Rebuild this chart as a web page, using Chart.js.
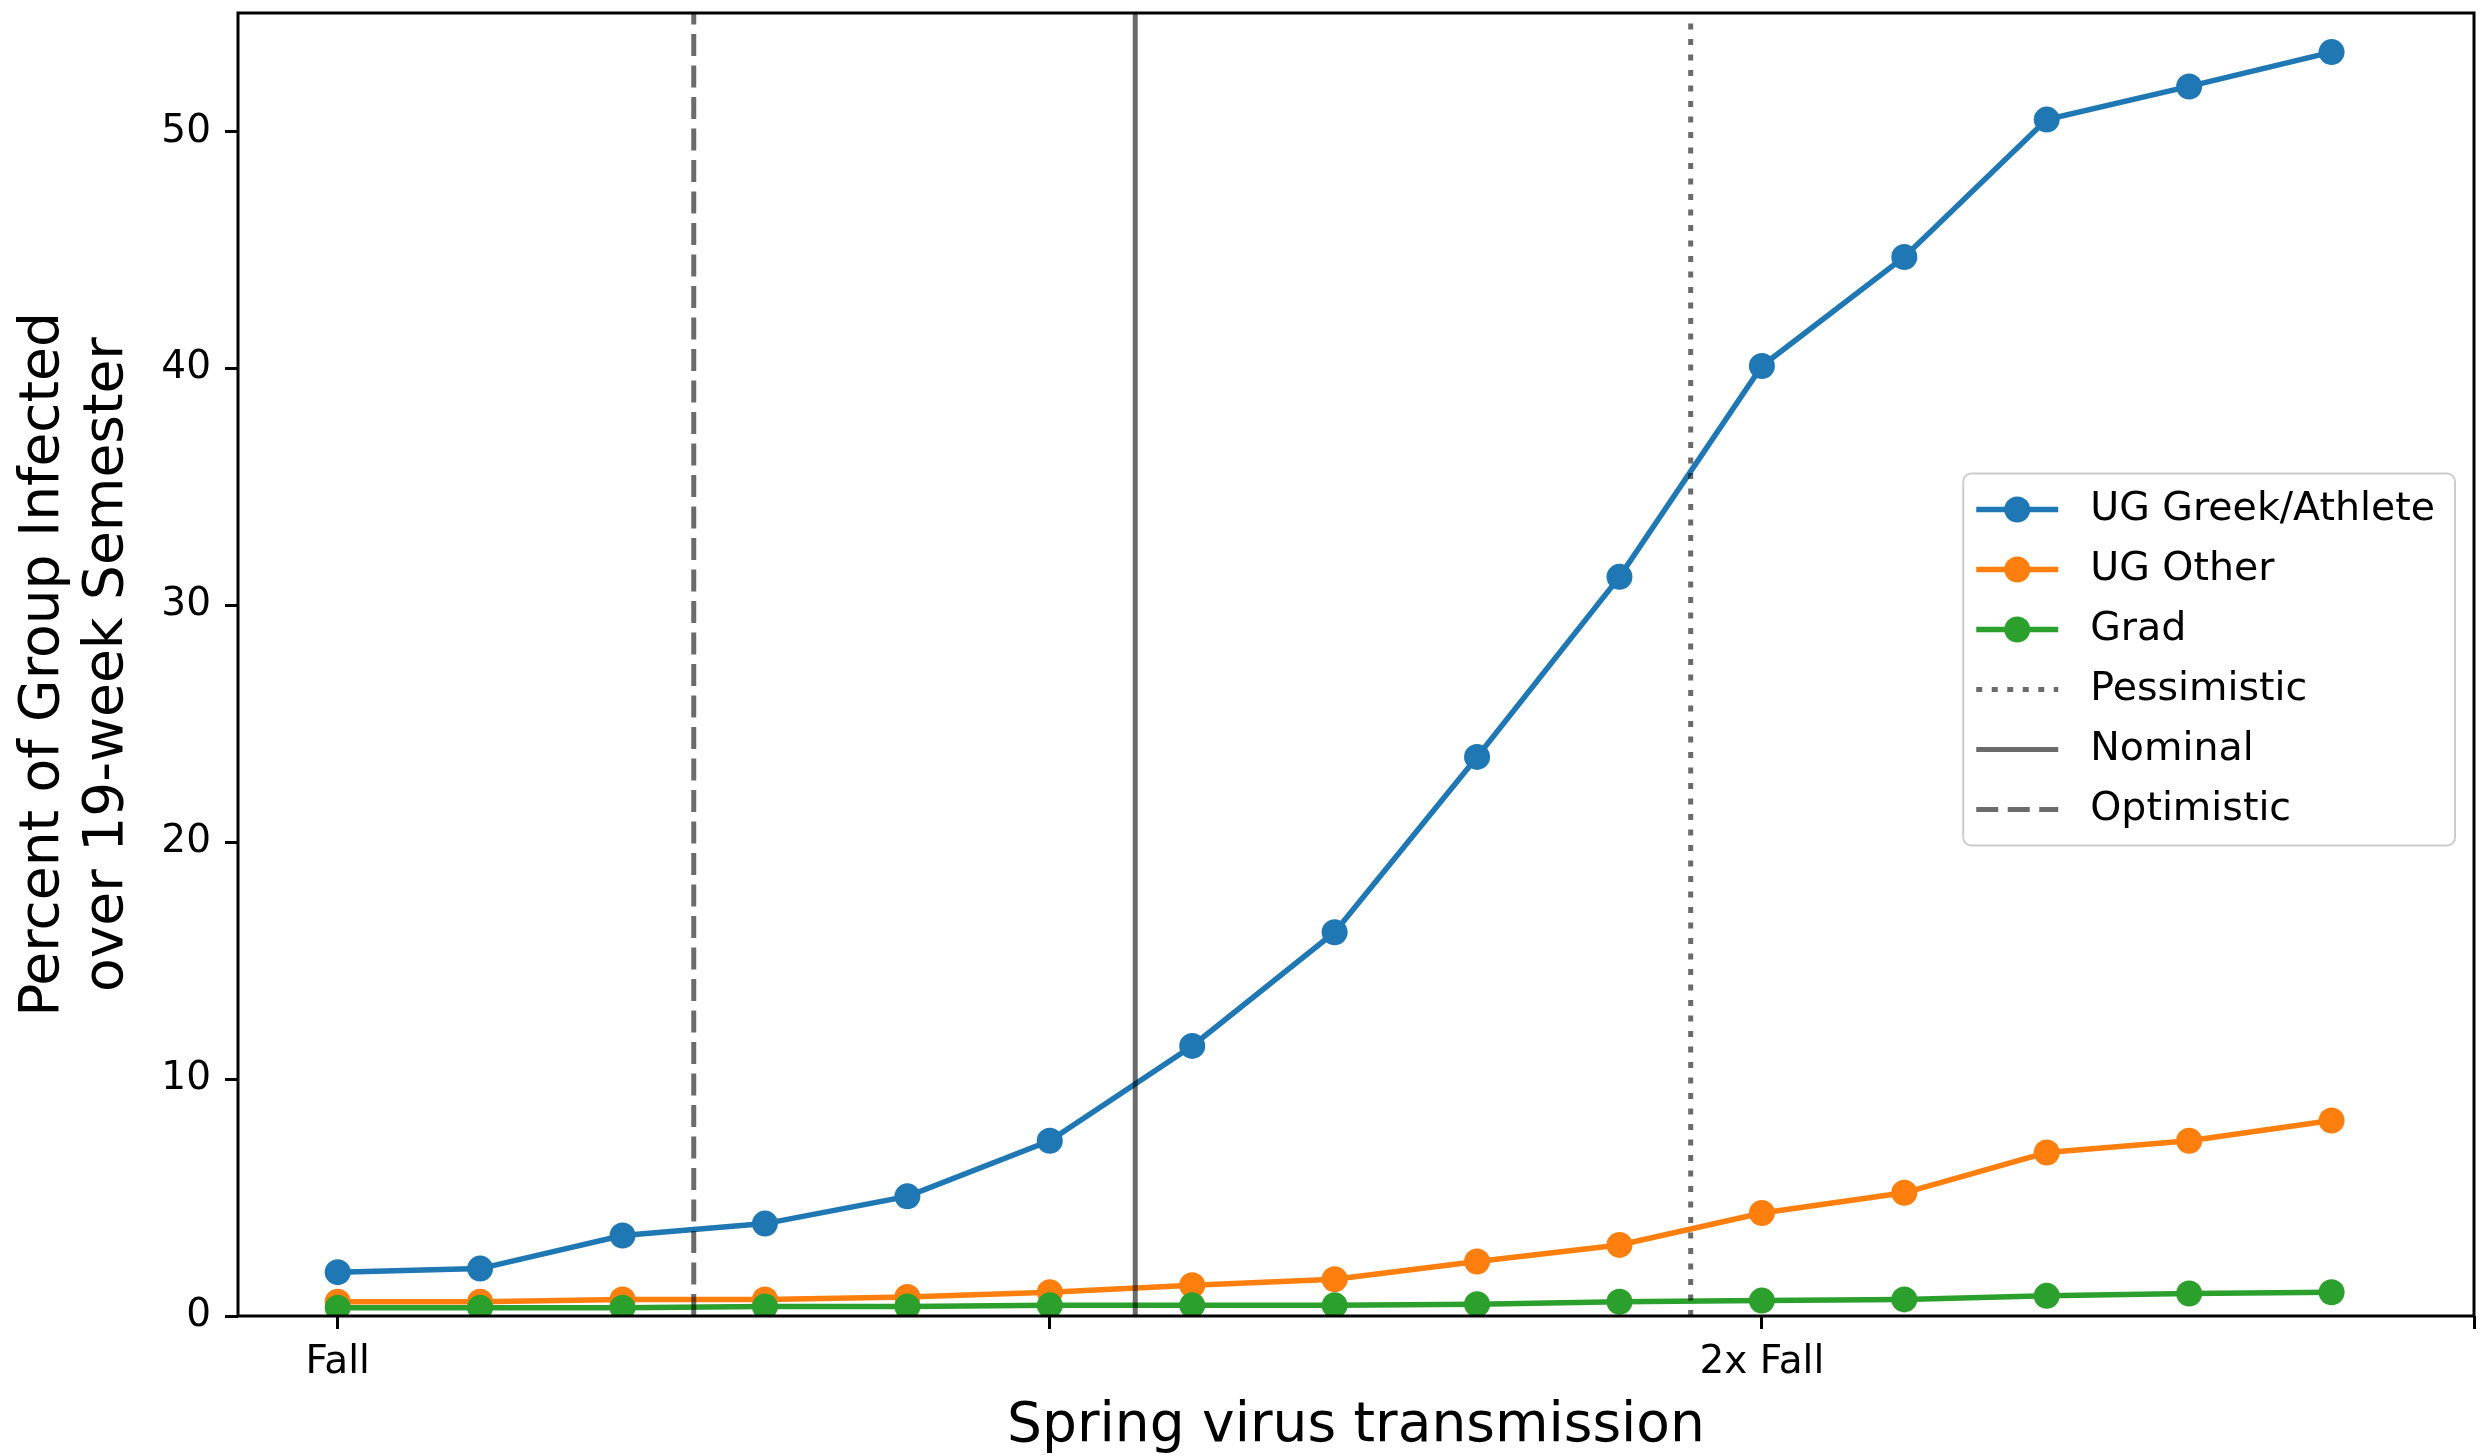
<!DOCTYPE html>
<html>
<head>
<meta charset="utf-8">
<script src="https://cdn.jsdelivr.net/npm/chart.js@4.4.1/dist/chart.umd.min.js"></script>
<style>
  html, body { margin: 0; padding: 0; background: #fff; }
  canvas { display: block; }
</style>
</head>
<body>
<canvas id="infectChart" width="2487" height="1456"></canvas>
<script>
// spring transmission, as a multiple of fall transmission
var transmission = [1.0, 1.1, 1.2, 1.3, 1.4, 1.5, 1.6, 1.7, 1.8, 1.9, 2.0, 2.1, 2.2, 2.3, 2.4]

// percent of each group infected over the semester
var greekAthlete = [1.85, 2.0, 3.4, 3.9, 5.05, 7.4, 11.4, 16.2, 23.6, 31.2, 40.1, 44.7, 50.5, 51.9, 53.35]
var ugOther = [0.6, 0.6, 0.7, 0.7, 0.8, 1.0, 1.3, 1.55, 2.3, 3.0, 4.35, 5.2, 6.9, 7.4, 8.25]
var grad = [0.35, 0.35, 0.35, 0.4, 0.4, 0.45, 0.45, 0.45, 0.5, 0.6, 0.65, 0.7, 0.85, 0.95, 1.0]

// scenario markers (vertical lines)
var scenarioNames = ['Pessimistic', 'Nominal', 'Optimistic']
var scenarioX = [1.95, 1.56, 1.25]

// axes
var xTickValues = [1.0, 1.5, 2.0, 2.5]
var xTickLabels = ['Fall', '', '2x Fall', '']
var yTickValues = [0, 10, 20, 30, 40, 50]
var xMin = 0.93, xMax = 2.5
var yMin = 0, yMax = 55

var FONT = 'DejaVu Sans'

function points(ys) {
    return transmission.map(function (x, i) { return { x: x, y: ys[i] } })
}

function seriesDataset(label, ys, color, order) {
    return {
        label: label,
        data: points(ys),
        borderColor: color,
        backgroundColor: color,
        borderWidth: 5.5,
        pointRadius: 13,
        pointHoverRadius: 13,
        pointBorderWidth: 0,
        pointBackgroundColor: color,
        tension: 0,
        clip: 0,
        order: order
    }
}

var scenarioDash = [[6, 9.5], [], [22, 9.5]]
function scenarioDataset(i) {
    return {
        label: scenarioNames[i],
        data: [{ x: scenarioX[i], y: yMin }, { x: scenarioX[i], y: yMax }],
        borderColor: 'rgba(0,0,0,0.58)',
        borderWidth: 5,
        borderDash: scenarioDash[i],
        borderCapStyle: 'butt',
        pointRadius: 0,
        pointHoverRadius: 0,
        clip: 0,
        order: 0
    }
}

var datasets = [
    seriesDataset('UG Greek/Athlete', greekAthlete, '#1f77b4', 3),
    seriesDataset('UG Other', ugOther, '#ff7f0e', 2),
    seriesDataset('Grad', grad, '#2ca02c', 1),
    scenarioDataset(0),
    scenarioDataset(1),
    scenarioDataset(2)
]

// box round the plot area
var frameBox = {
    id: 'frameBox',
    afterDatasetsDraw: function (chart) {
        var a = chart.chartArea, ctx = chart.ctx
        ctx.save()
        ctx.strokeStyle = '#000'
        ctx.lineWidth = 3
        ctx.strokeRect(a.left, a.top, a.right - a.left, a.bottom - a.top)
        ctx.restore()
    }
}

// matplotlib style legend, center right
var mplLegend = {
    id: 'mplLegend',
    afterDraw: function (chart) {
        var ctx = chart.ctx, a = chart.chartArea
        var sets = chart.data.datasets
        var fs = 39.5, row = 60, handle = 82, gap = 32, padL = 13, padR = 20, padV = 6
        ctx.save()
        ctx.font = fs + 'px "' + FONT + '"'
        var tw = 0
        sets.forEach(function (d) { tw = Math.max(tw, ctx.measureText(d.label).width) })
        var w = padL + handle + gap + tw + padR
        var h = sets.length * row + padV * 2
        var x0 = a.right - 19 - w
        var y0 = (a.top + a.bottom) / 2 - 5 - h / 2
        ctx.beginPath()
        ctx.roundRect(x0, y0, w, h, 8)
        ctx.fillStyle = 'rgba(255,255,255,0.8)'
        ctx.fill()
        ctx.strokeStyle = '#cccccc'
        ctx.lineWidth = 2
        ctx.stroke()
        sets.forEach(function (d, i) {
            var cy = y0 + padV + row * i + row / 2
            var hx = x0 + padL
            ctx.beginPath()
            ctx.setLineDash(d.borderDash || [])
            ctx.lineCap = 'butt'
            ctx.strokeStyle = d.borderColor
            ctx.lineWidth = d.borderWidth
            ctx.moveTo(hx, cy)
            ctx.lineTo(hx + handle, cy)
            ctx.stroke()
            ctx.setLineDash([])
            if (d.pointRadius > 0) {
                ctx.beginPath()
                ctx.arc(hx + handle / 2, cy, d.pointRadius, 0, Math.PI * 2)
                ctx.fillStyle = d.pointBackgroundColor
                ctx.fill()
            }
            ctx.fillStyle = '#000'
            ctx.textBaseline = 'middle'
            ctx.textAlign = 'left'
            ctx.fillText(d.label, hx + handle + gap, cy)
        })
        ctx.restore()
    }
}

function noEdgePadding(axis) {
    axis.paddingTop = 0
    axis.paddingBottom = 0
    axis.paddingLeft = 0
    axis.paddingRight = 0
}

var ctx = document.getElementById('infectChart').getContext('2d')
new Chart(ctx, {
    type: 'line',
    data: { datasets: datasets },
    options: {
        responsive: false,
        animation: false,
        devicePixelRatio: 1,
        layout: { padding: { top: 7, right: 13, left: 0, bottom: 0 } },
        plugins: {
            legend: { display: false },
            tooltip: { enabled: false }
        },
        scales: {
            x: {
                type: 'linear',
                min: xMin,
                max: xMax,
                afterBuildTicks: function (axis) {
                    axis.ticks = xTickValues.map(function (v) { return { value: v } })
                },
                afterFit: function (axis) { axis.height = 140; noEdgePadding(axis) },
                ticks: {
                    autoSkip: false,
                    maxRotation: 0,
                    padding: 10,
                    color: '#000',
                    font: { family: FONT, size: 39 },
                    callback: function (v) { return xTickLabels[xTickValues.indexOf(v)] }
                },
                grid: { drawOnChartArea: false, tickLength: 13, tickWidth: 3, tickColor: '#000' },
                border: { display: false },
                title: {
                    display: true,
                    text: 'Spring virus transmission',
                    color: '#000',
                    font: { family: FONT, size: 55, lineHeight: 1 },
                    padding: { top: 0, bottom: 2 }
                }
            },
            y: {
                type: 'linear',
                min: yMin,
                max: yMax,
                afterBuildTicks: function (axis) {
                    axis.ticks = yTickValues.map(function (v) { return { value: v } })
                },
                afterFit: function (axis) { axis.width = 238; noEdgePadding(axis) },
                ticks: {
                    padding: 14,
                    color: '#000',
                    font: { family: FONT, size: 39 }
                },
                grid: { drawOnChartArea: false, tickLength: 13, tickWidth: 3, tickColor: '#000' },
                border: { display: false },
                title: {
                    display: true,
                    text: ['Percent of Group Infected', 'over 19-week Semester'],
                    color: '#000',
                    font: { family: FONT, size: 55, lineHeight: 1.16 },
                    padding: { top: 12, bottom: 0 }
                }
            }
        }
    },
    plugins: [frameBox, mplLegend]
})
</script>
</body>
</html>
